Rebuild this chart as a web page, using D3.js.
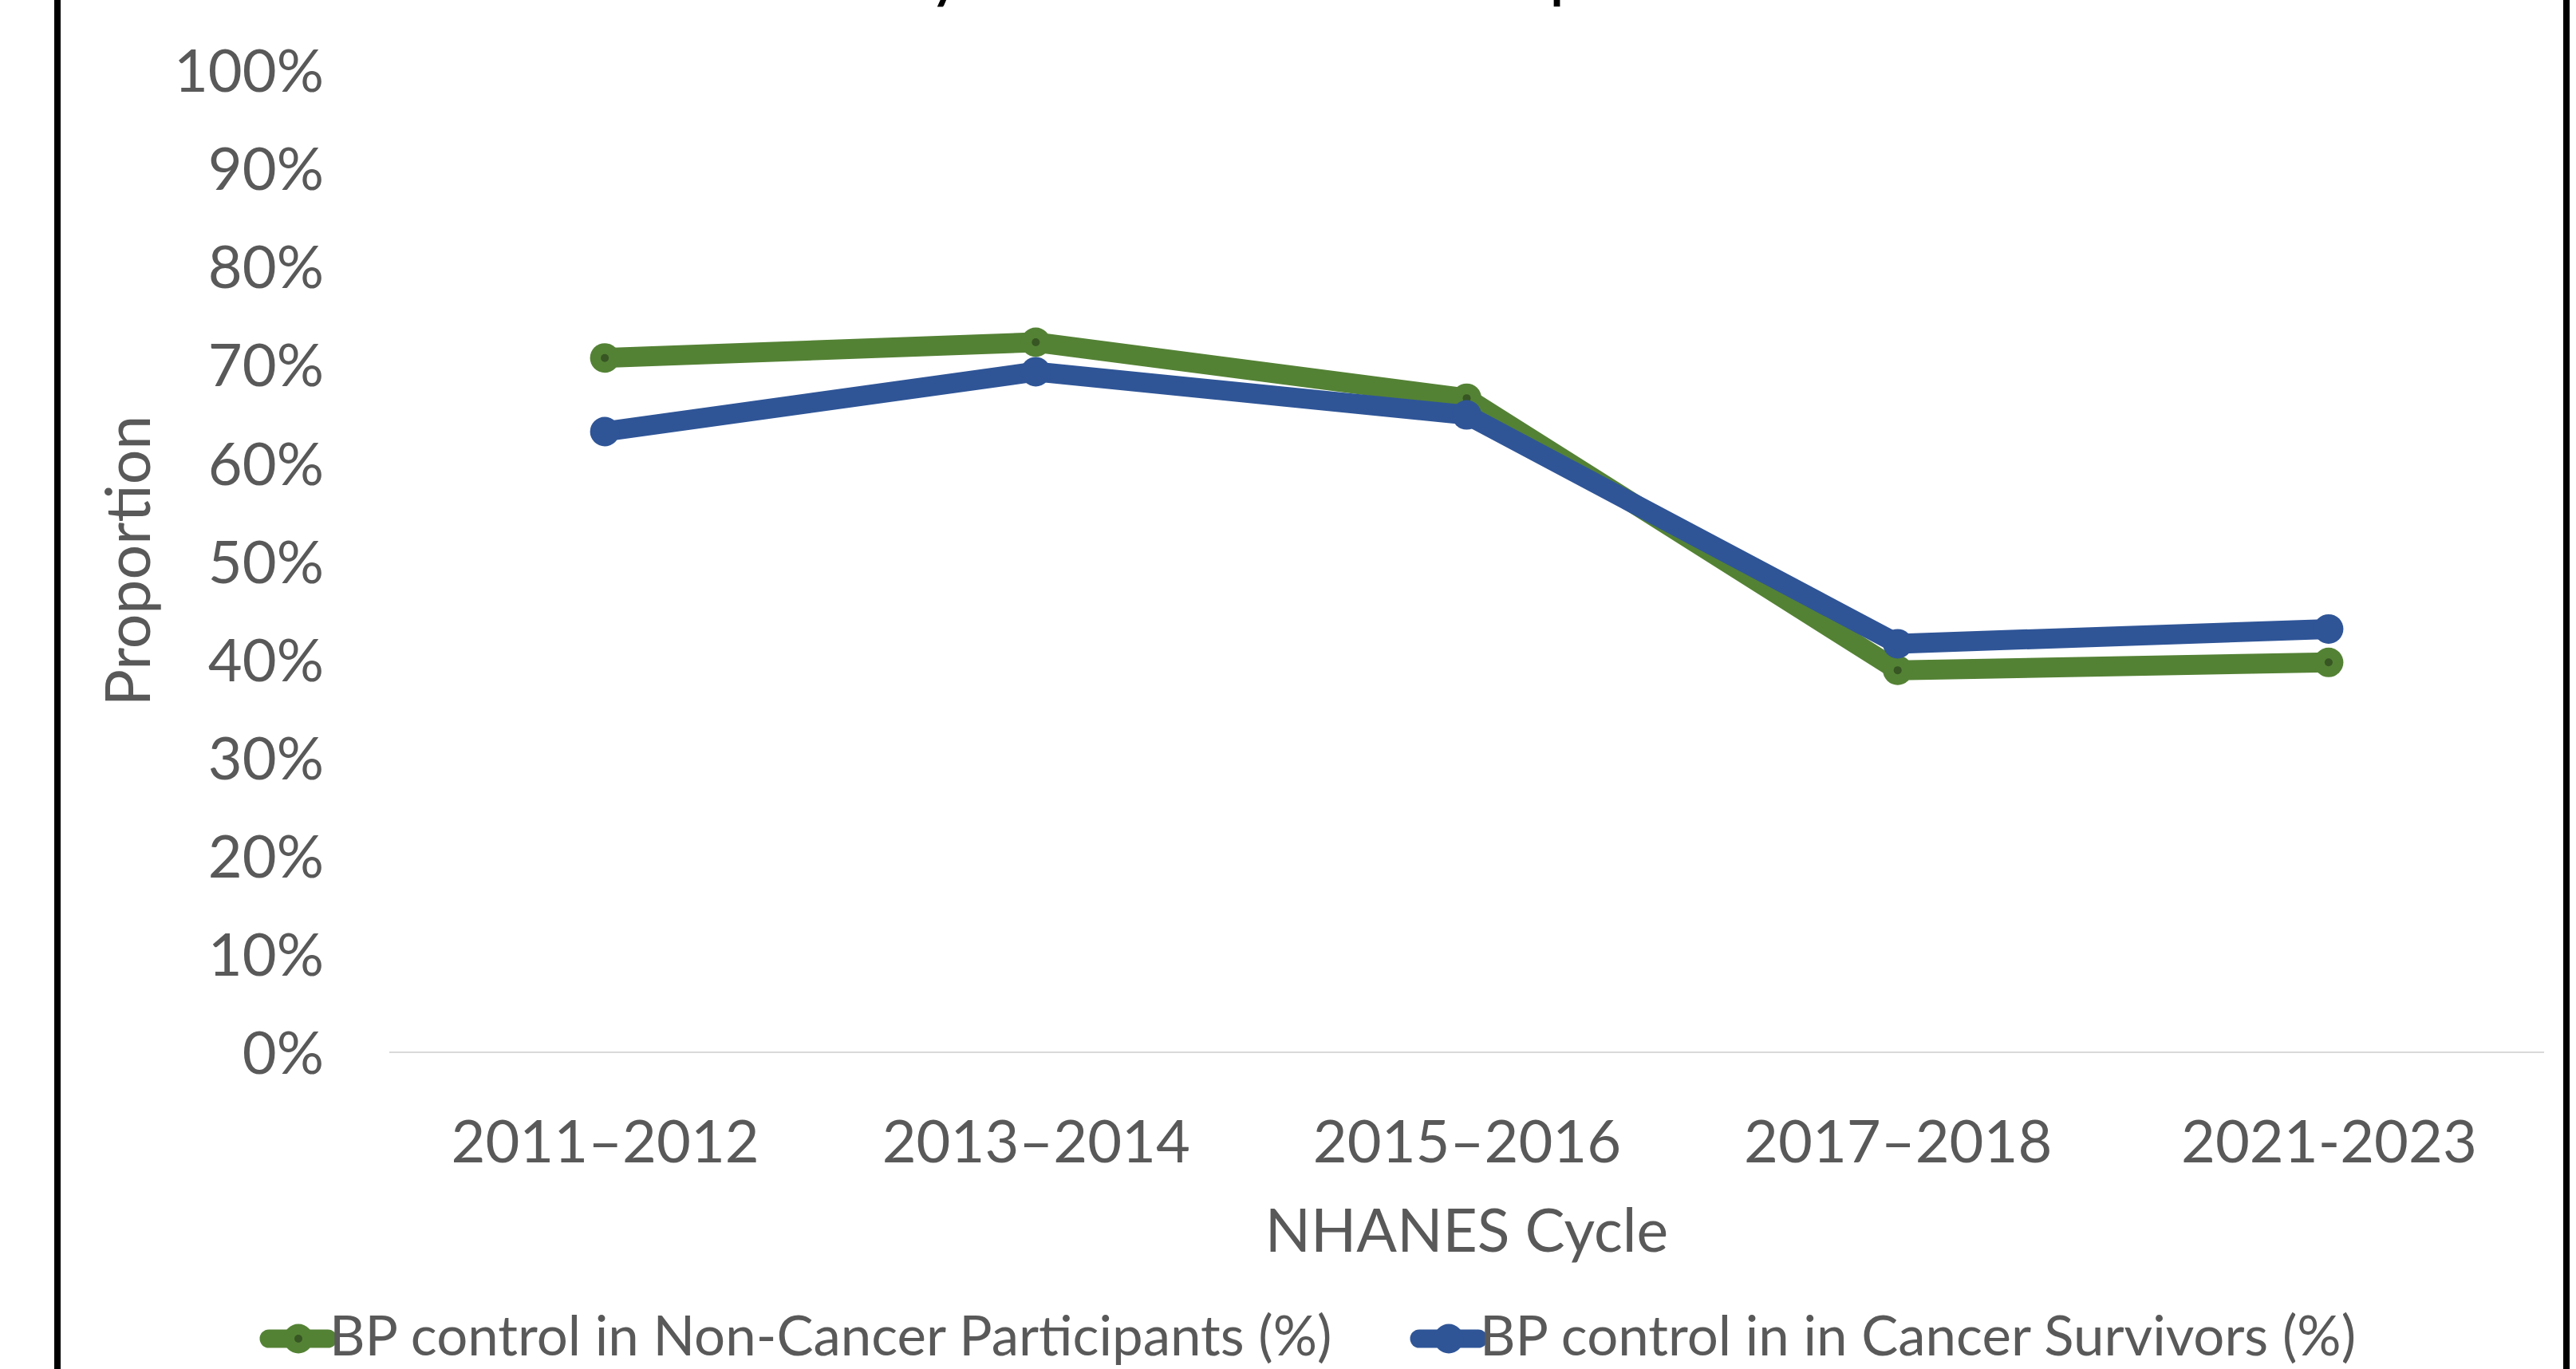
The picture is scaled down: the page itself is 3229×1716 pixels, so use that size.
<!DOCTYPE html>
<html>
<head>
<meta charset="utf-8">
<script src="https://cdn.jsdelivr.net/npm/d3@7"></script>
<style>
  html, body { margin: 0; padding: 0; background: #ffffff; }
  svg { display: block; }
  text { font-family: Lato, "Open Sans", "Liberation Sans", sans-serif; }
</style>
</head>
<body>
<svg id="chart" width="3229" height="1716"></svg>
<script>
// ---- data ----
const categories = ["2011–2012", "2013–2014", "2015–2016", "2017–2018", "2021-2023"];
const nonCancerValues = [70.7, 72.3, 66.6, 38.9, 39.7];
const cancerValues = [63.2, 69.3, 64.9, 41.6, 43.1];
const yTickValues = [0, 10, 20, 30, 40, 50, 60, 70, 80, 90, 100];
const seriesNames = ["BP control in Non-Cancer Participants (%)", "BP control in in Cancer Survivors (%)"];
const titleText = "Trends in BP Control by Cancer Survivorship Status";
const xAxisTitle = "NHANES Cycle";
const yAxisTitle = "Proportion";

// ---- styles ----
const W = 3229, H = 1716;
const textColor = "#595959";
const colors = ["#548235", "#2F5597"];
const innerDot = ["#375623", null];
const lineWidth = 25;
const markerR = 18.5;

const svg = d3.select("#chart");
svg.append("rect").attr("width", W).attr("height", H).attr("fill", "#fff");

// outer border (only left/right edges visible in the crop)
svg.append("rect")
  .attr("x", 72).attr("y", -100)
  .attr("width", 3217 - 72).attr("height", H + 200)
  .attr("fill", "none").attr("stroke", "#000").attr("stroke-width", 8);

// ---- scales ----
const plot = { left: 488, right: 3189, top: 88, bottom: 1319 };
const x = d3.scalePoint().domain(categories).range([plot.left, plot.right]).padding(0.5);
const y = d3.scaleLinear().domain([0, 100]).range([plot.bottom, plot.top]);

// ---- title (mostly cropped above the top, as in the reference) ----
const title = svg.append("text").attr("x", 0).attr("y", 0)
  .attr("font-size", 100).attr("fill", "#000").text(titleText);
(function fitTitle() {
  const node = title.node();
  const yi = titleText.indexOf(" by ") + 2;
  const pi = titleText.lastIndexOf("p");
  const targetY = 1185, targetP = 1951;
  let fs = 100;
  for (let k = 0; k < 3; k++) {
    title.attr("font-size", fs).attr("x", 0);
    const ey = node.getExtentOfChar(yi), ep = node.getExtentOfChar(pi);
    const d = (ep.x + 0.11 * fs) - (ey.x + ey.width / 2);
    fs = fs * (targetP - targetY) / d;
  }
  title.attr("font-size", fs);
  const ey = node.getExtentOfChar(yi);
  title.attr("x", targetY - (ey.x + ey.width / 2));
  title.attr("y", 10 - 0.2 * fs);
})();

// ---- y axis ----
const yAxis = svg.append("g").attr("transform", `translate(${plot.left},0)`)
  .call(d3.axisLeft(y).tickValues(yTickValues).tickFormat(d => d + "%").tickSize(0).tickPadding(82));
yAxis.select(".domain").remove();
yAxis.selectAll("text")
  .attr("font-size", 74).attr("fill", textColor)
  .attr("font-family", "Lato, 'Open Sans', sans-serif")
  .attr("dy", "0.36em");

// ---- x axis ----
const xAxis = svg.append("g").attr("transform", `translate(0,${plot.bottom})`)
  .call(d3.axisBottom(x).tickSize(0).tickSizeOuter(0));
xAxis.select(".domain")
  .attr("d", `M${plot.left},0H${plot.right}`)
  .attr("stroke", "#d9d9d9").attr("stroke-width", 2);
xAxis.selectAll("text")
  .attr("font-size", 74).attr("fill", textColor)
  .attr("font-family", "Lato, 'Open Sans', sans-serif")
  .attr("y", 1457 - plot.bottom).attr("dy", 0);

// ---- axis titles ----
svg.append("text")
  .attr("x", (plot.left + plot.right) / 2).attr("y", 1569)
  .attr("text-anchor", "middle").attr("font-size", 75).attr("fill", textColor)
  .text(xAxisTitle);
svg.append("text")
  .attr("transform", "translate(188,703) rotate(-90)")
  .attr("text-anchor", "middle").attr("font-size", 77).attr("fill", textColor)
  .text(yAxisTitle);

// ---- series ----
const series = [nonCancerValues, cancerValues];
const line = d3.line().x((d, i) => x(categories[i])).y(d => y(d));
series.forEach((vals, s) => {
  const g = svg.append("g");
  g.append("path").datum(vals)
    .attr("d", line).attr("fill", "none")
    .attr("stroke", colors[s]).attr("stroke-width", lineWidth)
    .attr("stroke-linejoin", "round");
  g.selectAll("circle.m").data(vals).join("circle")
    .attr("class", "m")
    .attr("cx", (d, i) => x(categories[i])).attr("cy", d => y(d))
    .attr("r", markerR).attr("fill", colors[s]);
  if (innerDot[s]) {
    g.selectAll("circle.dot").data(vals).join("circle")
      .attr("class", "dot")
      .attr("cx", (d, i) => x(categories[i])).attr("cy", d => y(d))
      .attr("r", 5).attr("fill", innerDot[s]);
  }
});

// ---- legend ----
const legendY = 1678;
const legendX = [337, 1779];
seriesNames.forEach((name, s) => {
  const g = svg.append("g").attr("transform", `translate(${legendX[s]},${legendY})`);
  g.append("line").attr("x1", 0).attr("x2", 74).attr("y1", 0).attr("y2", 0)
    .attr("stroke", colors[s]).attr("stroke-width", 23).attr("stroke-linecap", "round");
  g.append("circle").attr("cx", 37).attr("cy", 0).attr("r", markerR).attr("fill", colors[s]);
  if (innerDot[s]) g.append("circle").attr("cx", 37).attr("cy", 0).attr("r", 5).attr("fill", innerDot[s]);
  g.append("text").attr("x", 76).attr("y", 1699 - legendY)
    .attr("font-size", 69).attr("fill", textColor).text(name);
});
</script>
</body>
</html>
